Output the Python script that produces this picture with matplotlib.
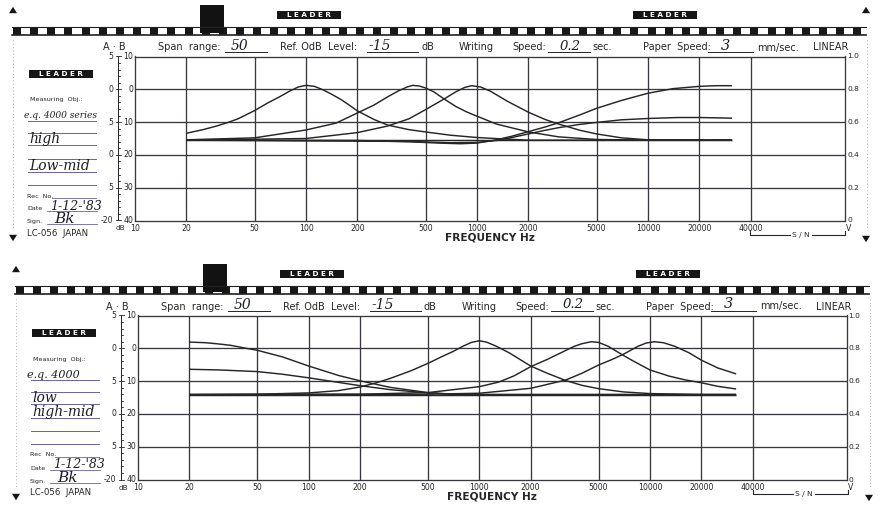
import matplotlib
matplotlib.use("Agg")
import matplotlib.pyplot as plt
import matplotlib.transforms as mtransforms
from matplotlib.patches import Rectangle, Polygon

W, H = 882, 508

# ------------------------------------------------------------------ data
x_ticks = [10, 20, 50, 100, 200, 500, 1000, 2000, 5000, 10000, 20000, 40000]
x_tick_labels = ["10", "20", "50", "100", "200", "500", "1000", "2000",
                 "5000", "10000", "20000", "40000"]
y_ticks = [10, 0, -10, -20, -30, -40]
y_inner_labels = ["10", "0", "10", "20", "30", "40"]
y_outer_labels = ["5", "0", "5", "0", "5", "-20"]
right_labels = ["1.0", "0.8", "0.6", "0.4", "0.2", "0"]

# --- top recording: e.q. 4000 series, high / low-mid
top_a_f = [20, 25, 30, 35, 40, 50, 60, 70, 80, 90, 100, 112, 125, 140, 160, 180,
           200, 250, 300, 400, 500, 700, 1000, 1500, 2000, 5000, 31000]
top_a_db = [-13.4, -12.3, -11.2, -10.1, -9.0, -6.5, -4.1, -2.3, -0.6, 0.7, 1.2,
            0.9, -0.1, -1.4, -3.1, -4.9, -6.6, -9.2, -10.9, -12.3, -13.0, -14.0,
            -14.7, -15.2, -15.5, -15.5, -15.5]
top_b_f = [20, 50, 100, 150, 200, 250, 300, 350, 390, 420, 460, 500, 560, 640,
           750, 870, 1000, 1300, 2000, 3000, 5000, 10000, 31000]
top_b_db = [-15.4, -14.8, -12.4, -10.3, -7.2, -4.8, -2.3, -0.4, 0.7, 1.2, 1.0,
            0.4, -0.8, -2.9, -5.2, -6.9, -8.2, -10.6, -13.0, -14.5, -15.3, -15.5,
            -15.5]
top_c_f = [20, 100, 200, 300, 400, 500, 640, 750, 850, 930, 1050, 1200, 1500,
           2000, 2500, 3000, 4000, 5000, 7000, 10000, 31000]
top_c_db = [-15.5, -15.0, -13.2, -11.2, -9.0, -6.2, -3.0, -0.8, 0.6, 1.1, 0.7,
            -0.6, -3.6, -7.0, -9.2, -10.6, -12.5, -13.6, -14.8, -15.4, -15.5]
top_shelf1_f = [20, 200, 400, 600, 800, 1000, 1300, 1600, 2000, 2500, 3000, 4000,
                5000, 7000, 10000, 14000, 20000, 25000, 31000]
top_shelf1_db = [-15.5, -15.6, -16.0, -16.4, -16.6, -16.4, -15.4, -14.3, -12.9,
                 -11.5, -10.2, -7.8, -5.8, -3.4, -1.2, 0.2, 0.9, 1.1, 1.1]
top_shelf2_f = [20, 400, 700, 1000, 1300, 1600, 2000, 2500, 3000, 4000, 5000,
                7000, 10000, 15000, 20000, 31000]
top_shelf2_db = [-15.5, -15.9, -16.3, -16.2, -15.6, -14.7, -13.6, -12.5, -11.7,
                 -10.7, -10.1, -9.3, -8.9, -8.6, -8.6, -8.8]
top_flat_f = [20, 31000]
top_flat_db = [-15.5, -15.5]

# --- bottom recording: e.q. 4000, low / high-mid
bot_l1_f = [20, 25, 30, 35, 43, 50, 70, 100, 150, 200, 300, 500, 700, 1000, 32000]
bot_l1_db = [1.9, 1.7, 1.3, 0.9, 0.0, -0.6, -2.6, -5.4, -8.3, -9.9, -11.9, -13.5,
             -14.0, -14.1, -14.1]
bot_l2_f = [20, 30, 50, 70, 100, 150, 200, 300, 500, 700, 1000, 32000]
bot_l2_db = [-6.4, -6.6, -7.1, -7.9, -9.0, -10.4, -11.4, -12.6, -13.6, -14.0,
             -14.1, -14.1]
bot_p1_f = [20, 50, 100, 150, 200, 250, 300, 400, 500, 600, 700, 800, 900, 1000,
            1100, 1250, 1500, 2000, 2500, 3200, 4000, 5000, 7000, 10000, 20000, 32000]
bot_p1_db = [-14.1, -14.0, -13.6, -12.9, -11.8, -10.5, -9.2, -6.8, -4.6, -2.6,
             -1.0, 0.6, 1.8, 2.3, 1.9, 0.7, -1.4, -5.4, -7.6, -9.8, -11.3, -12.3,
             -13.3, -13.8, -14.1, -14.1]
bot_p2_f = [20, 200, 500, 1000, 1300, 1600, 2000, 2500, 3000, 3600, 4000, 4520,
            5000, 5700, 6900, 8000, 10000, 13000, 16000, 20000, 25000, 32000]
bot_p2_db = [-14.1, -14.0, -13.5, -11.7, -10.3, -8.4, -5.6, -3.4, -1.4, 0.6, 1.4,
             2.0, 1.8, 0.6, -2.0, -3.9, -6.6, -8.5, -9.6, -10.5, -11.6, -12.4]
bot_p3_f = [20, 500, 1000, 2000, 3200, 4000, 5000, 6000, 7000, 8500, 9500, 10600,
            12000, 14000, 17000, 20000, 25000, 32000]
bot_p3_db = [-14.1, -14.0, -13.7, -12.2, -9.7, -7.6, -5.1, -3.4, -1.8, 0.6, 1.6,
             2.0, 1.7, 0.6, -1.4, -3.6, -6.0, -7.8]
bot_flat_f = [20, 32000]
bot_flat_db = [-14.1, -14.1]

top_series = [(top_a_f, top_a_db), (top_b_f, top_b_db), (top_c_f, top_c_db),
              (top_shelf1_f, top_shelf1_db), (top_shelf2_f, top_shelf2_db),
              (top_flat_f, top_flat_db)]
bot_series = [(bot_l1_f, bot_l1_db), (bot_l2_f, bot_l2_db), (bot_p1_f, bot_p1_db),
              (bot_p2_f, bot_p2_db), (bot_p3_f, bot_p3_db), (bot_flat_f, bot_flat_db)]

top_notes = dict(obj="e.q. 4000 series", obj_size=6.6,
                 lines=[("high", 139), ("Low-mid", 166)],
                 span="50", ref="-15", speed="0.2", paper="3", date="1-12-'83")
bot_notes = dict(obj="e.q. 4000", obj_size=8.0,
                 lines=[("low", 139), ("high-mid", 153)],
                 span="50", ref="-15", speed="0.2", paper="3", date="1-12-'83")

# ------------------------------------------------------------------ style
INK = "#262626"
GRID = "#3b3640"
RULE = "#6e6290"
HAND = dict(family="DejaVu Serif", style="italic", color="#1e1e2a")

fig = plt.figure(figsize=(W / 100, H / 100), dpi=100, facecolor="white")
deco = fig.add_axes([0, 0, 1, 1], zorder=3)
deco.set_xlim(0, W)
deco.set_ylim(H, 0)
deco.axis("off")


def txt(x, y, s, **kw):
    kw.setdefault("ha", "left")
    kw.setdefault("va", "center")
    kw.setdefault("color", INK)
    deco.text(x, y, s, **kw)


def leader(x0, y0, w=64, h=7.5):
    deco.add_patch(Rectangle((x0, y0), w, h, color="#161616", lw=0))
    txt(x0 + w / 2, y0 + h / 2 + 0.3, "L E A D E R", ha="center", fontsize=5.2,
        fontweight="bold", color="white")


def panel(ox, oy, series, notes, box, hide_right_arrow=False):
    left, right, top, bottom = box
    ax = fig.add_axes([left / W, 1 - bottom / H, (right - left) / W, (bottom - top) / H],
                      zorder=2)
    ax.set_xscale("log")
    ax.set_xlim(10, 10 ** 5.152)
    ax.set_ylim(-40, 10)
    for f, d in series:
        ax.plot(f, d, color=INK, lw=1.05, solid_capstyle="butt")
    for xv in x_ticks[1:]:
        ax.axvline(xv, color=GRID, lw=0.95, zorder=0)
    for yv in y_ticks[1:-1]:
        ax.axhline(yv, color=GRID, lw=0.95, zorder=0)
    for s in ax.spines.values():
        s.set_color(GRID)
        s.set_linewidth(0.95)
    ax.set_xticks([])
    ax.set_yticks([])
    ax.minorticks_off()

    # x tick labels
    trx = mtransforms.blended_transform_factory(ax.transData, deco.transData)
    for xv, lab in zip(x_ticks, x_tick_labels):
        ax.text(xv, bottom + 8, lab, transform=trx, ha="center", va="center",
                fontsize=5.6, color=INK, clip_on=False)
    txt(left - 15, bottom + 8, "dB", fontsize=5.2, ha="center")
    txt((left + right) / 2, bottom + 17, "FREQUENCY Hz", ha="center",
        fontsize=7.6, fontweight="bold")

    # left dual scale
    trl = mtransforms.blended_transform_factory(deco.transData, ax.transData)
    sx = left - 17.5
    ax.plot([sx, sx], [-40, 10], transform=trl, color=INK, lw=0.7, clip_on=False)
    for k in range(26):
        yv = 10 - 2 * k
        major = (k % 5 == 0)
        ax.plot([sx - (2 if major else 0), sx + (3.5 if major else 2.5)], [yv, yv],
                transform=trl, color=INK, lw=0.6, clip_on=False)
    for yv, li, lo in zip(y_ticks, y_inner_labels, y_outer_labels):
        ax.text(left - 2, yv, li, transform=trl, ha="right", va="center",
                fontsize=5.6, color=INK, clip_on=False)
        ax.text(sx - 4, yv, lo, transform=trl, ha="right", va="center",
                fontsize=5.6, color=INK, clip_on=False)
    # right scale
    for yv, lab in zip(y_ticks, right_labels):
        ax.text(right + 2, yv, lab, transform=trl, ha="left", va="center",
                fontsize=5.4, color=INK, clip_on=False)
    txt(right + 4, bottom + 8, "V", fontsize=5.6, ha="center")

    # S/N bracket
    by = bottom + 14.5
    deco.plot([750 + ox, 750 + ox, 790 + ox], [by - 4, by, by], color=INK, lw=0.8)
    deco.plot([812 + ox, 845 + ox, 845 + ox], [by, by, by - 4], color=INK, lw=0.8)
    txt(801 + ox, by, "S / N", fontsize=5.4, ha="center")

    # header
    hy = top - 9
    txt(left - 32, hy, "A · B", fontsize=7)
    txt(158 + ox, hy, "Span  range:", fontsize=7)
    deco.plot([225 + ox, 267 + ox], [hy + 4, hy + 4], color=INK, lw=0.7)
    txt(240 + ox, hy - 1.5, notes["span"], fontsize=10, ha="center", **HAND)
    txt(280 + ox, hy, "Ref. OdB  Level:", fontsize=7)
    deco.plot([367 + ox, 418 + ox], [hy + 4, hy + 4], color=INK, lw=0.7)
    txt(380 + ox, hy - 1.5, notes["ref"], fontsize=10, ha="center", **HAND)
    txt(421 + ox, hy, "dB", fontsize=7)
    txt(459 + ox, hy, "Writing", fontsize=7)
    txt(512 + ox, hy, "Speed:", fontsize=7)
    deco.plot([548 + ox, 590 + ox], [hy + 4, hy + 4], color=INK, lw=0.7)
    txt(570 + ox, hy - 1.5, notes["speed"], fontsize=9.5, ha="center", **HAND)
    txt(592 + ox, hy, "sec.", fontsize=7)
    txt(643 + ox, hy, "Paper  Speed:", fontsize=7)
    deco.plot([708 + ox, 753 + ox], [hy + 4, hy + 4], color=INK, lw=0.7)
    txt(725 + ox, hy - 2, notes["paper"], fontsize=10.5, ha="center", **HAND)
    txt(757 + ox, hy, "mm/sec.", fontsize=7)
    txt(813 + ox, hy, "LINEAR", fontsize=7)

    # sprocket strip
    sy0, sy1 = 27 + oy, 35 + oy
    deco.plot([12 + ox, 866 + ox], [sy0, sy0], color="#202020", lw=0.8)
    deco.plot([12 + ox, 866 + ox], [sy1, sy1], color="#202020", lw=1.2)
    x = 13 + ox
    while x < 862 + ox:
        deco.add_patch(Rectangle((x, sy0), 8, sy1 - sy0, color="#181818", lw=0))
        x += 17.15
    deco.add_patch(Rectangle((200 + ox, 5 + oy), 24, 28, color="#121212", lw=0))
    leader(277 + ox, 11 + oy)
    leader(633 + ox, 11 + oy)
    leader(29 + ox, 70 + oy)

    # arrows + dotted edges
    def tri(cx, cy, up=True):
        s = 4
        pts = [(cx - s, cy + s * 0.8), (cx + s, cy + s * 0.8), (cx, cy - s * 0.8)] if up \
            else [(cx - s, cy - s * 0.8), (cx + s, cy - s * 0.8), (cx, cy + s * 0.8)]
        deco.add_patch(Polygon(pts, closed=True, color="#151515", lw=0))
    tri(13 + ox, 10 + oy, True)
    if not hide_right_arrow:
        tri(866 + ox, 10 + oy, True)
    tri(13 + ox, 238 + oy, False)
    tri(866 + ox, 239 + oy, False)
    deco.plot([12.5 + ox, 12.5 + ox], [40 + oy, 230 + oy], color="#9a9a9a", lw=0.6,
              ls=(0, (1, 3)))
    deco.plot([866.5 + ox, 866.5 + ox], [40 + oy, 230 + oy], color="#9a9a9a", lw=0.6,
              ls=(0, (1, 3)))

    # left notes column
    txt(30 + ox, 100 + oy, "Measuring  Obj.:", fontsize=4.6)
    txt(24 + ox, 116 + oy, notes["obj"], fontsize=notes["obj_size"], **HAND)
    for ry in [121, 133, 145, 159, 172, 185]:
        deco.plot([28 + ox, 96 + ox], [ry + oy, ry + oy], color=RULE, lw=0.7)
    for s, ry in notes["lines"]:
        txt(29 + ox, ry + oy, s, fontsize=10, **HAND)
    txt(27 + ox, 196 + oy, "Rec  No.", fontsize=4.6)
    deco.plot([52 + ox, 96 + ox], [198 + oy, 198 + oy], color=RULE, lw=0.6)
    txt(27 + ox, 209 + oy, "Date", fontsize=4.6)
    deco.plot([47 + ox, 97 + ox], [211 + oy, 211 + oy], color=RULE, lw=0.6)
    txt(50 + ox, 206 + oy, notes["date"], fontsize=9, **HAND)
    txt(27 + ox, 222 + oy, "Sign.", fontsize=4.6)
    deco.plot([47 + ox, 97 + ox], [224 + oy, 224 + oy], color=RULE, lw=0.6)
    txt(54 + ox, 219 + oy, "Bk", fontsize=11, **HAND)
    txt(27 + ox, 233.5 + oy, "LC-056  JAPAN", fontsize=6.2)
    return ax


panel(0, 0, top_series, top_notes, (135, 845, 56.5, 220.5))
panel(3, 259, bot_series, bot_notes, (138, 846.5, 315.5, 479.5), hide_right_arrow=True)

fig.savefig("out.png", dpi=100, facecolor="white")
